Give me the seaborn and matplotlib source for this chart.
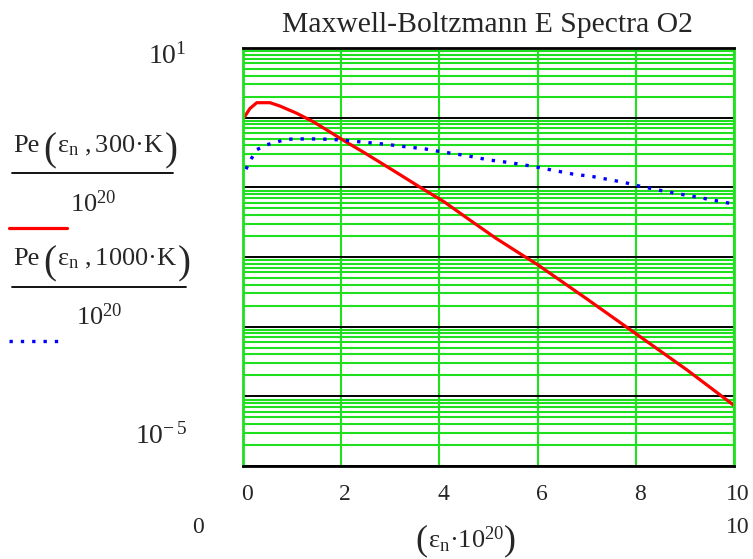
import numpy as np
import pandas as pd
import matplotlib.pyplot as plt
from matplotlib.lines import Line2D
from matplotlib.ticker import LogLocator, NullFormatter
import seaborn as sns

# values (x in units of 1e-20 J, y = Pe / 1e20)
eps_300 = [0.02, 0.14, 0.28, 0.55, 0.75, 1.09, 1.43, 1.76, 2.03, 2.44, 3.11,
           3.59, 4.1, 4.6, 5.15, 5.64, 6.0, 7.0, 8.0, 9.04, 10.0]
pe_300 = [1.00, 1.35, 1.64, 1.64, 1.47, 1.16, 0.875, 0.631, 0.479, 0.324, 0.166,
          0.102, 0.0617, 0.0347, 0.0186, 0.0112, 0.00776, 0.00251, 0.000794,
          0.000240, 0.0000741]

eps_1000 = [0.06, 0.16, 0.28, 0.48, 0.68, 0.9, 1.12, 1.56, 1.99, 2.43, 2.88,
            3.28, 3.72, 3.94, 4.59, 5.01, 5.44, 5.87, 6.29, 6.72, 7.14, 7.78,
            8.0, 8.63, 9.27, 9.92]
pe_1000 = [0.182, 0.251, 0.347, 0.407, 0.447, 0.490, 0.495, 0.495, 0.479, 0.447,
           0.417, 0.385, 0.355, 0.333, 0.282, 0.247, 0.226, 0.202, 0.177, 0.155,
           0.142, 0.117, 0.107, 0.0865, 0.0719, 0.0589]

x_ticks = [0, 2, 4, 6, 8, 10]
title = "Maxwell-Boltzmann E Spectra O2"

df_300 = pd.DataFrame({"eps": eps_300, "pe": pe_300})
df_1000 = pd.DataFrame({"eps": eps_1000, "pe": pe_1000})

sns.set_style("white")
plt.rcParams["font.family"] = ["Liberation Serif", "DejaVu Serif"]
plt.rcParams["mathtext.fontset"] = "custom"
plt.rcParams["mathtext.rm"] = "Liberation Serif"
plt.rcParams["mathtext.it"] = "Liberation Serif:italic"
plt.rcParams["mathtext.fallback"] = "stix"

W, H = 753, 559
fig = plt.figure(figsize=(W / 100, H / 100), dpi=100)
ax = fig.add_axes([243 / W, 1 - 466 / H, (734 - 243) / W, (466 - 48) / H])

GREEN = "#1fe01f"
RED = "#ff0000"
BLUE = "#0000ff"
DOTS = (0, (1, 2.4))

sns.lineplot(data=df_300, x="eps", y="pe", ax=ax, color=RED, linewidth=2.3)
sns.lineplot(data=df_1000, x="eps", y="pe", ax=ax, color=BLUE, linewidth=2.4,
             linestyle=DOTS)

ax.set_yscale("log")
ax.set_xlim(0, 10)
ax.set_ylim(1e-5, 1e1)
ax.set_xticks(x_ticks)
ax.yaxis.set_major_locator(LogLocator(base=10, numticks=20))
ax.yaxis.set_minor_locator(LogLocator(base=10, subs=np.arange(2, 10), numticks=100))
ax.yaxis.set_minor_formatter(NullFormatter())
ax.tick_params(which="both", length=0, labelleft=False, labelbottom=False)
ax.set_xlabel("")
ax.set_ylabel("")

ax.grid(True, axis="x", which="major", color=GREEN, linewidth=1.5)
ax.grid(True, axis="y", which="minor", color=GREEN, linewidth=1.5)
ax.grid(True, axis="y", which="major", color="black", linewidth=1.4)
ax.set_axisbelow(True)
for side in ["top", "bottom"]:
    ax.spines[side].set_color("black")
    ax.spines[side].set_linewidth(2)
for side in ["left", "right"]:
    ax.spines[side].set_color(GREEN)
    ax.spines[side].set_linewidth(2)


def px(x, y):
    return x / W, 1 - y / H


renderer = fig.canvas.get_renderer()


def row(parts, x, y):
    # lay out text pieces one after the other, (text, fontsize, baseline shift, gap)
    for s, size, dy, gap in parts:
        t = fig.text(*px(x, y + dy), s, ha="left", va="baseline", fontsize=size)
        x += t.get_window_extent(renderer).width + gap
    return x


# title
fig.text(*px(487, 32), title, ha="center", va="baseline", fontsize=21.3)

# Mathcad style axis labels
for t in x_ticks:
    xp = 243 + t * (734 - 243) / 10 + 4
    fig.text(*px(xp, 500), str(t), ha="center", va="baseline", fontsize=17)
fig.text(*px(187, 64), r"$10^{1}$", ha="right", va="baseline", fontsize=20)
fig.text(*px(187, 444), r"$10^{-\,5}$", ha="right", va="baseline", fontsize=20)
fig.text(*px(198, 533), "0", ha="center", va="baseline", fontsize=17)
fig.text(*px(738, 533), "10", ha="center", va="baseline", fontsize=17)
row([("(", 26, 1.5, 1),
     (r"$\mathrm{ε}_{\mathrm{n}}\mathrm{·}10^{20}$", 19, 0, 0),
     (")", 26, 1.5, 0)], 415, 548)

# left legend with fractions
row([("Pe", 19, 0, 4), ("(", 28, 8, 1),
     (r"$\mathrm{ε}_{\mathrm{n}}\mathrm{\ ,300·K}$", 19, 0, 0),
     (")", 28, 8, 0)], 13, 152)
fig.add_artist(Line2D([12 / W, 173 / W], [1 - 173 / H] * 2, color="black", lw=1.3))
fig.text(*px(93, 212), r"$10^{20}$", ha="center", va="baseline", fontsize=19)
fig.add_artist(Line2D([9 / W, 67 / W], [1 - 228 / H] * 2, color=RED, lw=2.3))

row([("Pe", 19, 0, 4), ("(", 28, 8, 1),
     (r"$\mathrm{ε}_{\mathrm{n}}\mathrm{\ ,1000·K}$", 19, 0, 0),
     (")", 28, 8, 0)], 13, 265)
fig.add_artist(Line2D([12 / W, 186 / W], [1 - 287 / H] * 2, color="black", lw=1.3))
fig.text(*px(99, 325), r"$10^{20}$", ha="center", va="baseline", fontsize=19)
fig.add_artist(Line2D([9 / W, 65 / W], [1 - 341 / H] * 2, color=BLUE, lw=2.4,
                      linestyle=DOTS))

fig.savefig("out.png", dpi=100)
